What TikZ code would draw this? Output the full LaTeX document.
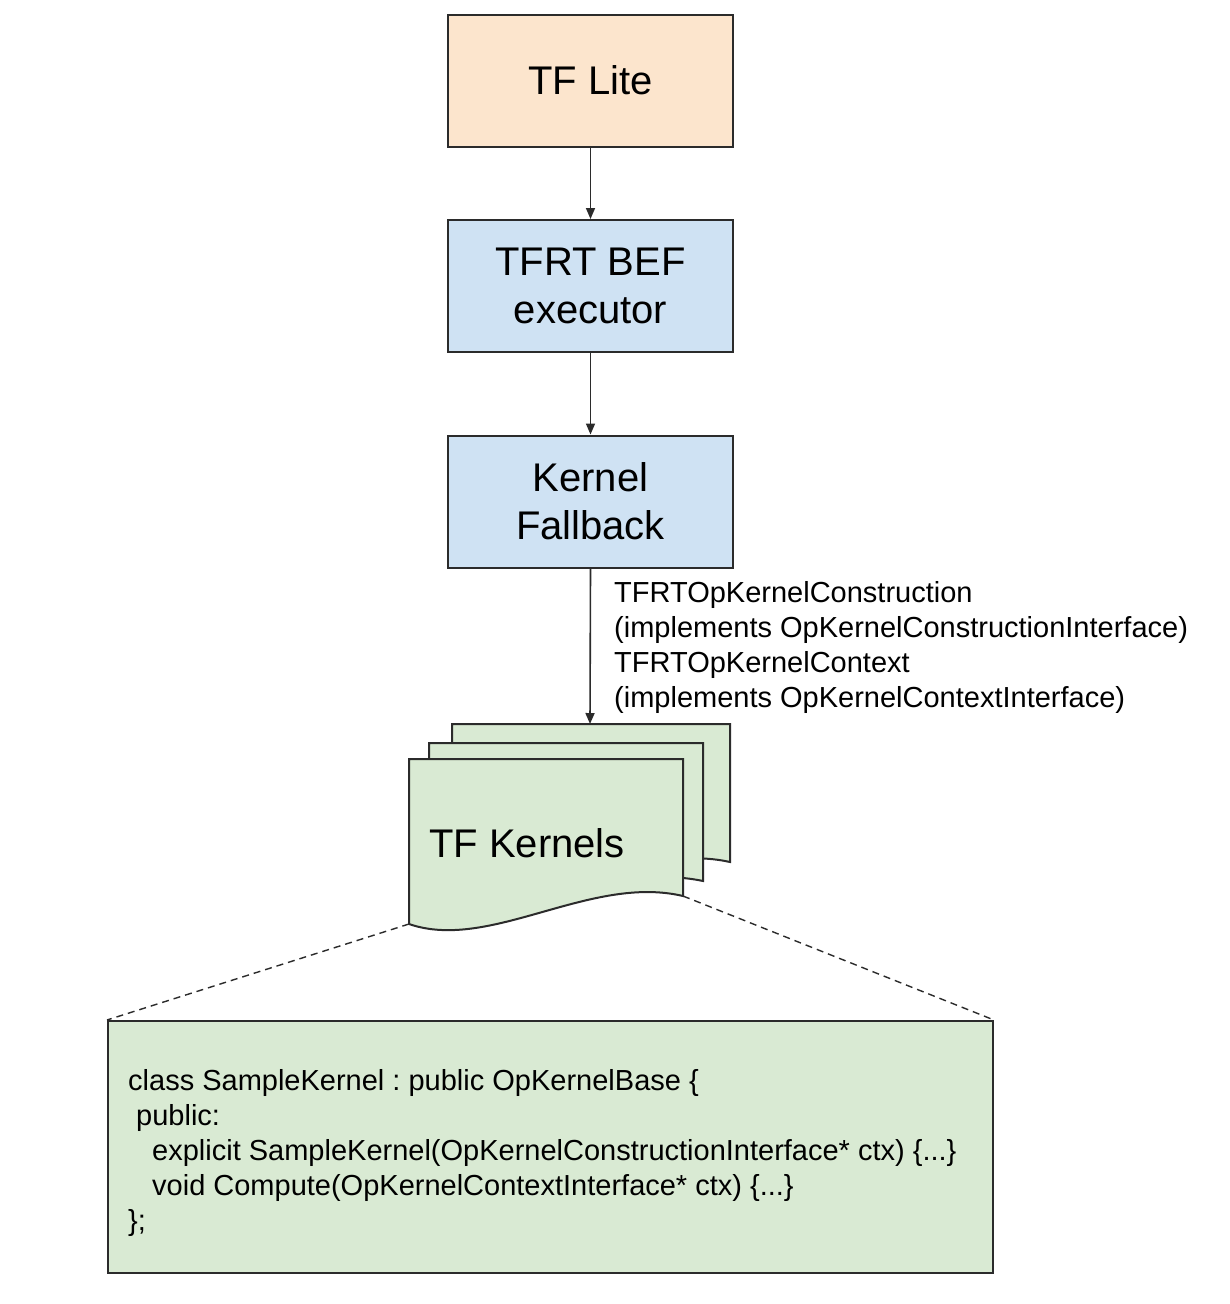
\documentclass[tikz,border=0pt]{standalone}
\usepackage{fontspec}
\setmainfont{Liberation Sans}
\usetikzlibrary{arrows.meta}
\definecolor{peach}{HTML}{FCE5CD}
\definecolor{lblue}{HTML}{CFE2F3}
\definecolor{lgreen}{HTML}{D9EAD3}
\definecolor{edge}{HTML}{2B2B2B}
\frenchspacing
\begin{document}
\begin{tikzpicture}[x=1pt,y=-1pt,
  box/.style={draw=edge,line width=2pt,minimum width=285pt,minimum height=132pt,inner sep=0pt,align=center,
    font=\fontsize{40}{48}\selectfont},
  arr/.style={draw=edge,line width=1.6pt,-{Triangle[length=11pt,width=9pt]}},
  sheet/.style={draw=edge,line width=2pt,fill=lgreen},
  small/.style={font=\fontsize{29}{35}\selectfont\frenchspacing,align=left,inner sep=0pt,anchor=north west},
  dashline/.style={draw=edge,line width=1.4pt,dash pattern=on 7pt off 5pt}
]
\useasboundingbox (0,0) rectangle (1230,1304);
\fill[white] (0,0) rectangle (1230,1304);

\node[box,fill=peach] (lite) at (590.5,80.5) {TF Lite};
\node[box,fill=lblue] (bef) at (590.5,286) {TFRT BEF\\executor};
\node[box,fill=lblue] (fb) at (590.5,501.5) {Kernel\\Fallback};

% stacked documents
\draw[sheet] (452,724) -- (730,724) -- (730,862) .. controls (640,842) and (547,910) .. (452,889) -- cycle;
\draw[sheet] (429,743) -- (703,743) -- (703,881) .. controls (610,861) and (510,929) .. (429,908) -- cycle;
\draw[sheet] (409,759) -- (683,759) -- (683,896) .. controls (590,874) and (490,952) .. (409,924) -- cycle;
\coordinate (kbacktop) at (590,724);
\coordinate (kbl) at (409,924);
\coordinate (kbr) at (683,896);
\node[font=\fontsize{40}{48}\selectfont,inner sep=0pt] (kern) at (527,843) {TF Kernels};

\node[box,fill=lgreen,minimum width=885pt,minimum height=252pt] (code) at (550.5,1147) {};

\draw[arr] (lite.south) -- (bef.north);
\draw[arr] (bef.south) -- (fb.north);
\draw[arr] (fb.south) -- (kbacktop);

\draw[dashline] (kbl) -- (code.north west);
\draw[dashline] (kbr) -- (code.north east);

\node[small] (lbl) at (614,581) {TFRTOpKernelConstruction\\(implements OpKernelConstructionInterface)\\TFRTOpKernelContext\\(implements OpKernelContextInterface)};

\node[small] (src) at (128,1069) {class SampleKernel : public OpKernelBase \{\\
\hspace*{8pt}public:\\
\hspace*{24pt}explicit SampleKernel(OpKernelConstructionInterface* ctx) \{...\}\\
\hspace*{24pt}void Compute(OpKernelContextInterface* ctx) \{...\}\\
\};};
\end{tikzpicture}
\end{document}
